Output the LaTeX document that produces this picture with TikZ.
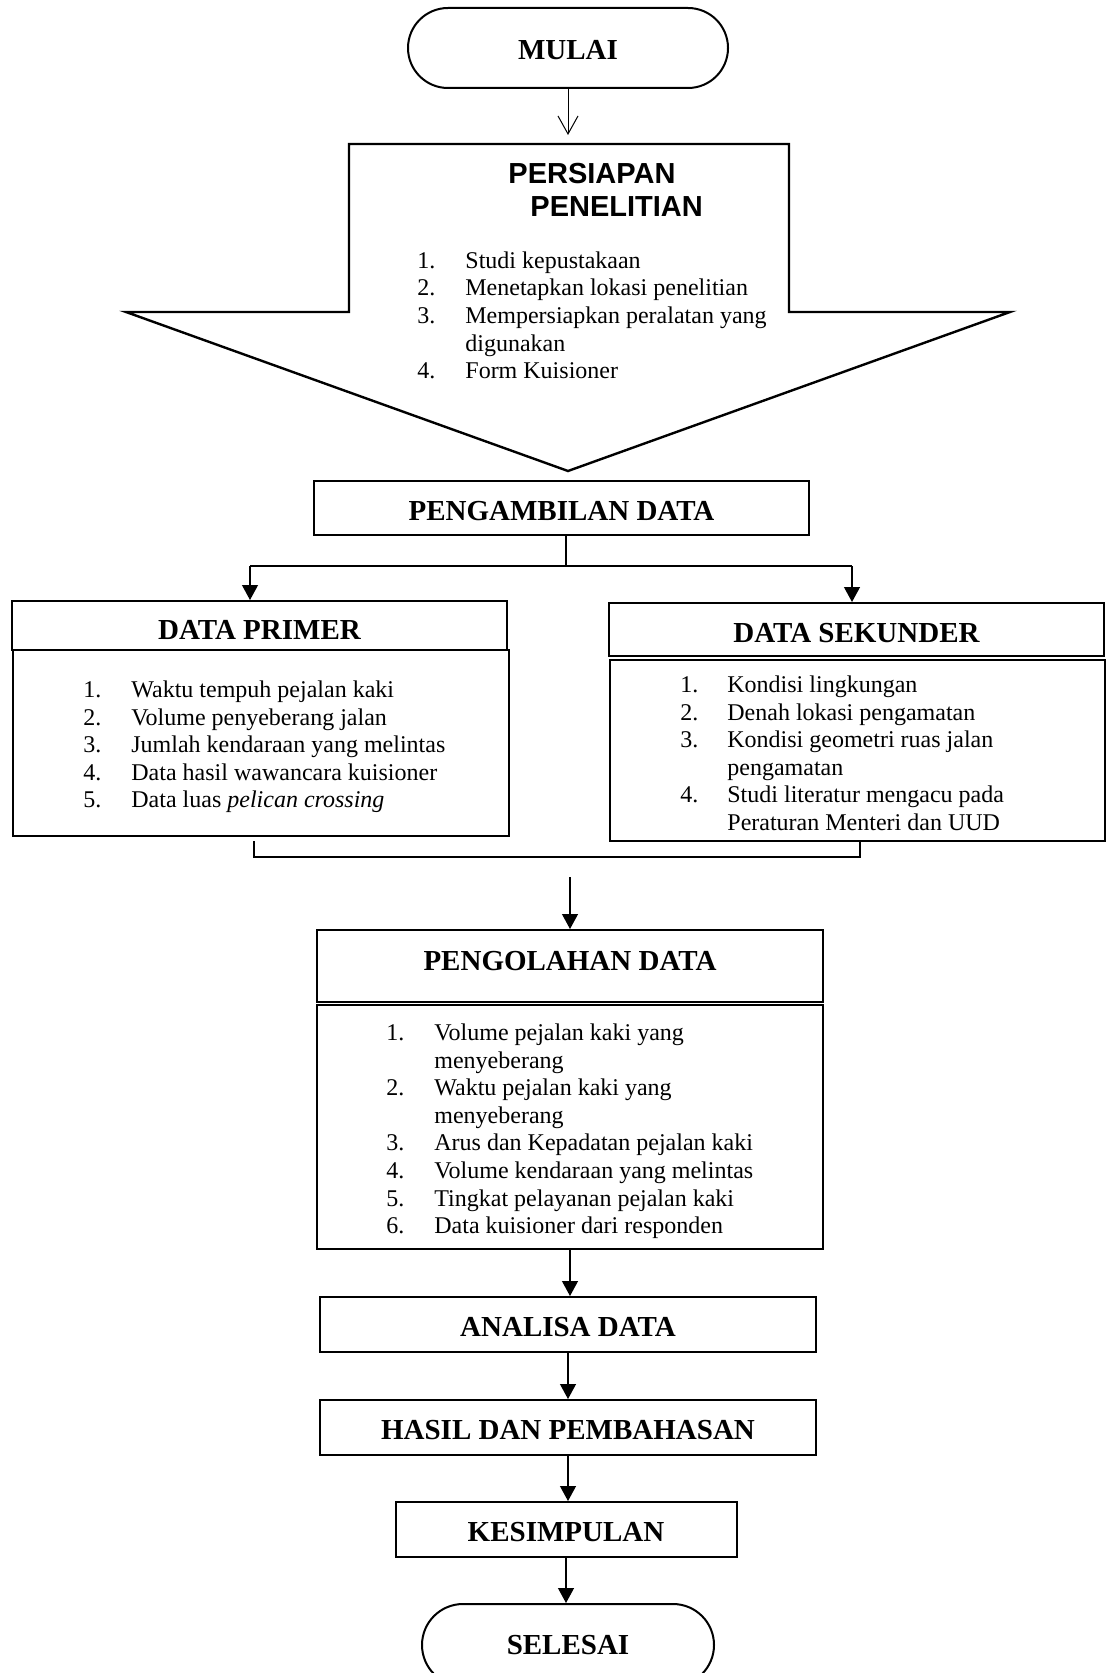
\documentclass[tikz,border=0pt]{standalone}
\usepackage{fontspec}
\setmainfont{Liberation Serif}
\newfontfamily\sansjudul{Liberation Sans}
\usepackage{tikz}
\usetikzlibrary{arrows.meta,shapes.misc}

\newcommand{\butir}[2]{\makebox[#1][l]{#2}}

\begin{document}
\begin{tikzpicture}[
  x=0.5pt, y=-0.5pt,
  kotak/.style={draw, line width=1pt, inner sep=0pt, text height=12.3pt, font=\fontsize{14.5}{17}\selectfont\bfseries},
  terminal/.style={rounded rectangle, draw, line width=1pt, inner sep=0pt, text height=11.5pt, font=\fontsize{14.5}{17}\selectfont\bfseries},
  daftar/.style={anchor=north west, inner sep=0pt, align=left, font=\fontsize{12}{13.8}\selectfont},
  panah/.style={line width=0.6pt, -{Triangle[length=7.5pt,width=8pt]}},
  garis/.style={line width=0.6pt}
]
\useasboundingbox (0,0) rectangle (1108,1673);
\clip (0,0) rectangle (1108,1673);

% Mulai
\node[terminal, minimum width=160pt, minimum height=40pt] (mulai) at (568,48) {MULAI};
\coordinate (persTop) at (568,135);
\draw[line width=0.5pt, -{Straight Barb[length=9pt,width=10pt]}] (mulai.south) -- (persTop);

% Persiapan penelitian (block arrow)
\draw[line width=1.2pt, line join=miter] (349,144) -- (789,144) -- (789,312) -- (1010,312)
  -- (568,471) -- (126,312) -- (349,312) -- cycle;
\node[anchor=north west, inner sep=0pt, align=left, font=\sansjudul\fontsize{14.5}{16.5}\selectfont\bfseries]
  (judulPersiapan) at (508,163) {PERSIAPAN\\\hspace*{11pt}PENELITIAN};
\node[daftar] (isiPersiapan) at (417,248) {\rule{0pt}{10pt}\butir{24pt}{1.}Studi kepustakaan\\
  \butir{24pt}{2.}Menetapkan lokasi penelitian\\
  \butir{24pt}{3.}Mempersiapkan peralatan yang\\
  \hspace*{24pt}digunakan\\
  \butir{24pt}{4.}Form Kuisioner};

% Pengambilan data
\node[kotak, minimum width=247.5pt, minimum height=27pt] (ambil) at (561.5,508) {PENGAMBILAN DATA};
\coordinate (cabang) at (566,566);
\coordinate (kiri) at (250,566);
\coordinate (kanan) at (852,566);

% Data primer
\node[kotak, minimum width=247.5pt, minimum height=24.5pt, text height=13.8pt] (primerJudul) at (259.5,625.5) {DATA PRIMER};
\node[draw, line width=1pt, minimum width=248pt, minimum height=93pt] (primerIsi) at (261,743) {};
\node[daftar] (daftarPrimer) at (83,677) {\rule{0pt}{10pt}\butir{24pt}{1.}Waktu tempuh pejalan kaki\\
  \butir{24pt}{2.}Volume penyeberang jalan\\
  \butir{24pt}{3.}Jumlah kendaraan yang melintas\\
  \butir{24pt}{4.}Data hasil wawancara kuisioner\\
  \butir{24pt}{5.}Data luas \textit{pelican crossing}};

% Data sekunder
\node[kotak, minimum width=247.5pt, minimum height=26.5pt, text height=13pt] (sekunderJudul) at (856.5,629.5) {DATA SEKUNDER};
\node[draw, line width=1pt, minimum width=247.5pt, minimum height=90.5pt] (sekunderIsi) at (857.5,750.5) {};
\node[daftar] (daftarSekunder) at (680,672) {\rule{0pt}{10pt}\butir{23.5pt}{1.}Kondisi lingkungan\\
  \butir{23.5pt}{2.}Denah lokasi pengamatan\\
  \butir{23.5pt}{3.}Kondisi geometri ruas jalan\\
  \hspace*{23.5pt}pengamatan\\
  \butir{23.5pt}{4.}Studi literatur mengacu pada\\
  \hspace*{23.5pt}Peraturan Menteri dan UUD};

\draw[garis] (cabang |- ambil.south) -- (cabang);
\draw[garis] (kiri) -- (kanan);
\draw[panah] (kiri) -- (kiri |- primerJudul.north);
\draw[panah] (kanan) -- (kanan |- sekunderJudul.north);

% Gabungan
\coordinate (kurungKiri) at (254,857);
\coordinate (kurungKanan) at (860,857);
\draw[garis] ([yshift=-2pt]kurungKiri |- primerIsi.south) -- (kurungKiri) -- (kurungKanan) -- (kurungKanan |- sekunderIsi.south);

% Pengolahan data
\node[kotak, minimum width=253pt, minimum height=36pt, text height=9.6pt, text depth=5pt] (olahJudul) at (570,966) {PENGOLAHAN DATA};
\node[draw, line width=1pt, minimum width=253pt, minimum height=122pt] (olahIsi) at (570,1127) {};
\node[daftar] (daftarOlah) at (386,1020) {\rule{0pt}{10pt}\butir{24pt}{1.}Volume pejalan kaki yang\\
  \hspace*{24pt}menyeberang\\
  \butir{24pt}{2.}Waktu pejalan kaki yang\\
  \hspace*{24pt}menyeberang\\
  \butir{24pt}{3.}Arus dan Kepadatan pejalan kaki\\
  \butir{24pt}{4.}Volume kendaraan yang melintas\\
  \butir{24pt}{5.}Tingkat pelayanan pejalan kaki\\
  \butir{24pt}{6.}Data kuisioner dari responden};
\coordinate (olahMasuk) at (570,877);
\draw[panah] (olahMasuk) -- (olahJudul.north);

% Analisa sampai selesai
\node[kotak, minimum width=248pt, minimum height=27.5pt] (analisa) at (568,1324.5) {ANALISA DATA};
\node[kotak, minimum width=248pt, minimum height=27.5pt] (hasil) at (568,1427.5) {HASIL DAN PEMBAHASAN};
\node[kotak, minimum width=170.5pt, minimum height=27.5pt] (simpul) at (566,1529.5) {KESIMPULAN};
\node[terminal, minimum width=146pt, minimum height=41pt, text height=9.6pt] (selesai) at (568,1645) {SELESAI};

\draw[panah] (olahIsi.south) -- (olahIsi.south |- analisa.north);
\draw[panah] (analisa.south) -- (analisa.south |- hasil.north);
\draw[panah] (hasil.south) -- (hasil.south |- simpul.north);
\draw[panah] (simpul.south) -- (simpul.south |- selesai.north);
\end{tikzpicture}
\end{document}
